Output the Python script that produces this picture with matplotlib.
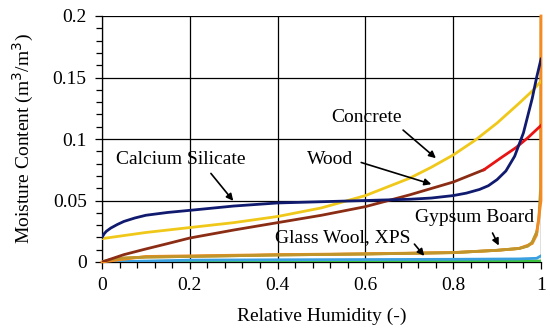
import matplotlib
matplotlib.use("Agg")
import matplotlib.pyplot as plt
from matplotlib.ticker import MultipleLocator

# Calcium silicate
cs_rh = [0, 0.005, 0.01, 0.02, 0.035, 0.05, 0.075, 0.1, 0.15, 0.2, 0.3, 0.4, 0.5, 0.6, 0.7, 0.75, 0.8, 0.83, 0.86, 0.88, 0.9, 0.92, 0.94, 0.96, 0.98, 0.99, 1.0]
cs_mc = [0.020, 0.023, 0.025, 0.0276, 0.0305, 0.033, 0.0358, 0.038, 0.0403, 0.042, 0.0455, 0.048, 0.049, 0.050, 0.051, 0.052, 0.054, 0.056, 0.059, 0.062, 0.067, 0.074, 0.086, 0.105, 0.133, 0.150, 0.165]
# Concrete
co_rh = [0, 0.05, 0.1, 0.2, 0.3, 0.4, 0.5, 0.6, 0.7, 0.75, 0.8, 0.85, 0.9, 0.95, 0.98, 1.0]
co_mc = [0.019, 0.0215, 0.024, 0.028, 0.032, 0.037, 0.044, 0.054, 0.068, 0.077, 0.087, 0.099, 0.113, 0.129, 0.139, 0.147]
# Wood (brown part)
wd_rh = [0, 0.025, 0.05, 0.1, 0.15, 0.2, 0.3, 0.4, 0.5, 0.6, 0.7, 0.8, 0.87]
wd_mc = [0.0, 0.003, 0.006, 0.0106, 0.015, 0.0195, 0.026, 0.032, 0.038, 0.045, 0.0545, 0.065, 0.075]
# Wood (red part)
wr_rh = [0.87, 0.89, 0.91, 0.943, 0.97, 1.0]
wr_mc = [0.075, 0.080, 0.085, 0.093, 0.101, 0.111]
# Gypsum board (olive)
gy_rh = [0, 0.01, 0.02, 0.05, 0.1, 0.2, 0.4, 0.6, 0.8, 0.9, 0.95, 0.97, 0.98, 0.99, 0.995, 0.999, 1.0]
gy_mc = [0.0, 0.001, 0.002, 0.0032, 0.004, 0.0045, 0.0057, 0.0065, 0.0076, 0.0095, 0.011, 0.013, 0.016, 0.024, 0.035, 0.06, 0.2]
# Gypsum board (orange)
go_rh = [0, 0.1, 0.2, 0.4, 0.6, 0.8, 0.9, 0.95, 0.98, 0.99, 1.0, 1.0]
go_mc = [0.0, 0.0045, 0.005, 0.006, 0.0067, 0.0077, 0.0095, 0.011, 0.015, 0.022, 0.05, 0.2]
# Glass wool
gw_rh = [0, 0.2, 0.4, 0.6, 0.8, 0.95, 0.99, 1.0]
gw_mc = [0.0, 0.0015, 0.0018, 0.002, 0.0022, 0.0025, 0.003, 0.005]
# XPS
xp_rh = [0, 0.5, 1.0]
xp_mc = [0.0, 0.0003, 0.0008]

plt.rcParams['font.family'] = ['Liberation Serif', 'DejaVu Serif']

fig = plt.figure(figsize=(5.5, 3.33), dpi=100)
ax = fig.add_axes([102/550, 1-262/333, 439/550, 246/333])

lw = 2.0
ax.plot(xp_rh, xp_mc, color='#3cc03c', lw=lw, zorder=3)
ax.plot(gw_rh, gw_mc, color='#3aa0e0', lw=lw, zorder=3)
ax.plot(gy_rh, gy_mc, color='#b39a2c', lw=lw, zorder=3)
ax.plot(go_rh, go_mc, color='#f58a20', lw=lw, zorder=3.5, clip_on=False)
ax.plot(gy_rh[:-3], gy_mc[:-3], color='#c0962c', lw=lw, zorder=3.6)
ax.plot(wd_rh, wd_mc, color='#8b2c14', lw=lw, zorder=4)
ax.plot(wr_rh, wr_mc, color='#e81414', lw=lw, zorder=4)
ax.plot(co_rh, co_mc, color='#f0c81a', lw=lw, zorder=4)
ax.plot(cs_rh, cs_mc, color='#101a6e', lw=lw, zorder=4)

ax.set_xlim(0, 1)
ax.set_ylim(0, 0.2)
ax.xaxis.set_minor_locator(MultipleLocator(0.04))
ax.yaxis.set_minor_locator(MultipleLocator(0.01))
ax.set_xticks([0, 0.2, 0.4, 0.6, 0.8, 1.0])
ax.set_xticklabels(['0', '0.2', '0.4', '0.6', '0.8', '1'])
ax.set_yticks([0, 0.05, 0.1, 0.15, 0.2])
ax.set_yticklabels(['0', '0.05', '0.1', '0.15', '0.2'])
ax.grid(True, which='major', color='black', lw=0.9, zorder=1)
ax.tick_params(which='both', direction='out', labelsize=14, width=0.9, color='black')
ax.tick_params(which='major', length=5, pad=6)
ax.tick_params(which='minor', length=4)
for s in ['top', 'right']:
    ax.spines[s].set_visible(False)
ax.spines['left'].set_linewidth(0.9)
ax.spines['bottom'].set_linewidth(0.9)

ax.set_xlabel('Relative Humidity (-)', fontsize=14, labelpad=10)
ax.set_ylabel('Moisture Content (m$^3$/m$^3$)', fontsize=14, labelpad=12)

ap = dict(arrowstyle='-|>', color='black', lw=1.2, mutation_scale=10)
def pt(px, py):
    return ((px - 102) / 439, (262 - py) / 246 * 0.2)

ax.annotate('Concrete', xy=pt(438, 160), xytext=pt(366, 117), fontsize=14,
            ha='center', va='center', arrowprops=dict(ap, relpos=(0.95, 0.0), shrinkA=2), zorder=5)
ax.annotate('Wood', xy=pt(434, 185), xytext=pt(330, 160), fontsize=14,
            ha='center', va='center', arrowprops=dict(ap, relpos=(1.0, 0.5), shrinkA=4), zorder=5)
ax.annotate('Calcium Silicate', xy=pt(235, 203), xytext=pt(181, 160), fontsize=14,
            ha='center', va='center', arrowprops=dict(ap, relpos=(0.7, 0.0), shrinkA=2), zorder=5)
ax.annotate('Gypsum Board', xy=pt(500, 248), xytext=pt(475, 218), fontsize=14,
            ha='center', va='center', arrowprops=dict(ap, relpos=(0.62, 0.0), shrinkA=3), zorder=5)
ax.annotate('Glass Wool, XPS', xy=pt(426, 258), xytext=pt(343, 238), fontsize=14,
            ha='center', va='center', arrowprops=dict(ap, relpos=(1.0, 0.4), shrinkA=1), zorder=5)

fig.savefig('out.png', dpi=100)
